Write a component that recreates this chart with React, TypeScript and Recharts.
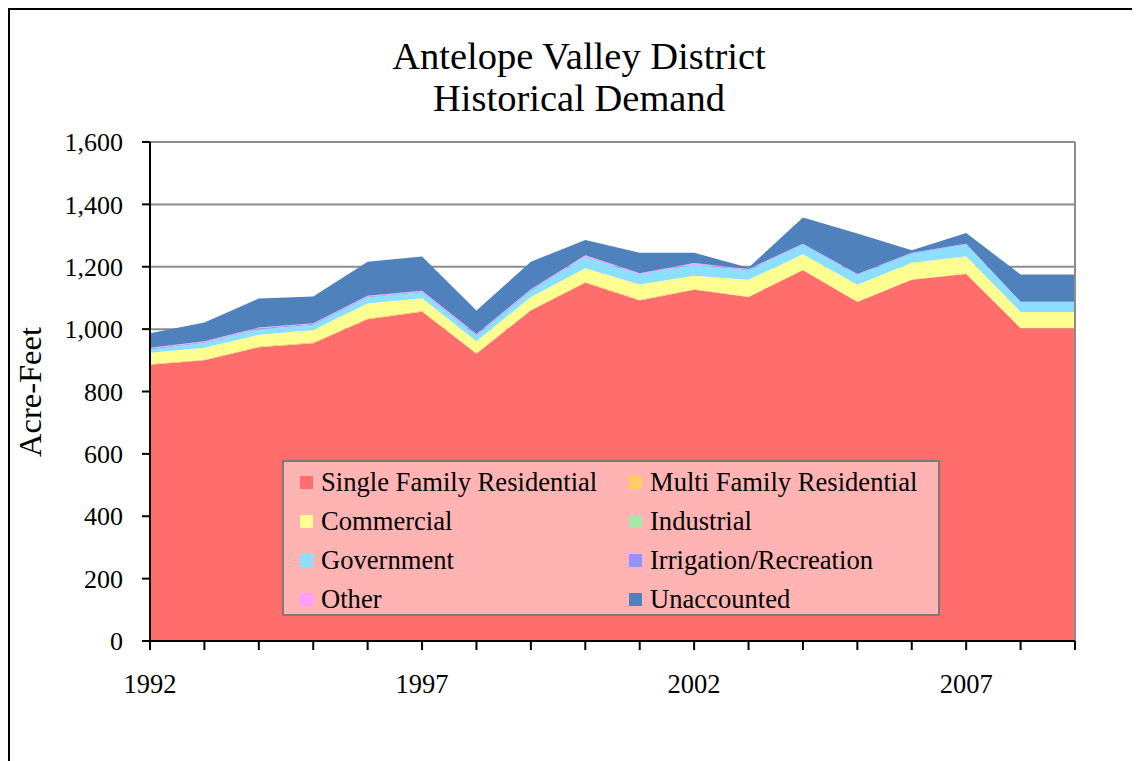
import { AreaChart, Area, XAxis, YAxis, CartesianGrid, ReferenceLine } from "recharts";

const years = [1992, 1993, 1994, 1995, 1996, 1997, 1998, 1999, 2000, 2001, 2002, 2003, 2004, 2005, 2006, 2007, 2008, 2009];

const singleFamily = [886, 900, 942, 955, 1032, 1056, 921, 1060, 1149, 1092, 1126, 1103, 1189, 1087, 1158, 1177, 1003, 1003];
const multiFamily = [3, 3, 3, 3, 3, 3, 3, 3, 3, 3, 3, 2, 2, 2, 2, 2, 1, 1];
const commercial = [35, 37, 37, 39, 47, 40, 37, 40, 43, 48, 42, 53, 49, 53, 53, 55, 51, 51];
const industrial = [0, 0, 0, 0, 0, 0, 0, 0, 0, 0, 0, 0, 0, 0, 0, 0, 0, 0];
const government = [11, 16, 18, 17, 20, 19, 18, 20, 37, 32, 36, 31, 31, 32, 29, 37, 33, 33];
const irrigation = [3, 3, 3, 3, 3, 3, 3, 3, 2, 2, 2, 2, 2, 2, 2, 2, 0, 0];
const other = [2, 2, 2, 2, 2, 2, 2, 2, 3, 2, 3, 2, 1, 1, 1, 1, 0, 0];
const unaccounted = [47, 60, 93, 86, 109, 110, 76, 88, 49, 66, 33, 4, 84, 130, 8, 34, 87, 87];

const yTicks = [0, 200, 400, 600, 800, 1000, 1200, 1400, 1600];
const labelYears = [1992, 1997, 2002, 2007];

const series = [
  { key: "sfr", name: "Single Family Residential", color: "#ff6d6d", values: singleFamily },
  { key: "mfr", name: "Multi Family Residential", color: "#ffcc66", values: multiFamily },
  { key: "com", name: "Commercial", color: "#ffff91", values: commercial },
  { key: "ind", name: "Industrial", color: "#a6e8a6", values: industrial },
  { key: "gov", name: "Government", color: "#8cdfff", values: government },
  { key: "irr", name: "Irrigation/Recreation", color: "#9393ff", values: irrigation },
  { key: "oth", name: "Other", color: "#ff9dff", values: other },
  { key: "una", name: "Unaccounted", color: "#4f81bd", values: unaccounted },
];

const data = years.map((year, i) => {
  const row: Record<string, number> = { year };
  series.forEach((s) => (row[s.key] = s.values[i]));
  return row;
});

const FONT = "'Liberation Serif', 'Times New Roman', serif";

const YearTick = (props: any) => {
  const { x, y, payload } = props;
  if (!labelYears.includes(payload.value)) return null;
  return (
    <text x={x} y={y} dy="0.71em" textAnchor="middle" fontSize={26.5} fontFamily={FONT} fill="#000">
      {payload.value}
    </text>
  );
};

export default function App() {
  return (
    <div
      style={{
        position: "relative",
        width: 1132,
        height: 753,
        boxSizing: "border-box",
        borderTop: "2px solid #000",
        borderLeft: "2px solid #000",
        fontFamily: FONT,
        background: "#fff",
      }}
    >
      {/* title */}
      <div
        style={{
          position: "absolute",
          left: 269,
          top: 25,
          width: 600,
          textAlign: "center",
          fontSize: 38.5,
          lineHeight: "42px",
          color: "#000",
        }}
      >
        Antelope Valley District
        <br />
        Historical Demand
      </div>

      {/* y axis title */}
      <div
        style={{
          position: "absolute",
          left: 20,
          top: 382,
          transform: "translate(-50%, -50%) rotate(-90deg)",
          fontSize: 32.5,
          whiteSpace: "nowrap",
          color: "#000",
        }}
      >
        Acre-Feet
      </div>

      <div style={{ position: "absolute", left: 0, top: 0 }}>
        <AreaChart width={1120} height={740} data={data} margin={{ top: 132, right: 55, left: 0, bottom: 0 }}>
          <CartesianGrid vertical={false} stroke="#8c8c8c" strokeWidth={2} />
          <ReferenceLine x={2009} stroke="#8c8c8c" strokeWidth={2} />
          <XAxis
            dataKey="year"
            interval={0}
            height={109}
            tickSize={9}
            tickMargin={24}
            tick={<YearTick />}
            axisLine={{ stroke: "#000", strokeWidth: 2 }}
            tickLine={{ stroke: "#000", strokeWidth: 2 }}
          />
          <YAxis
            width={140}
            domain={[0, 1600]}
            ticks={yTicks}
            allowDataOverflow
            tickSize={8}
            tickMargin={19}
            tickFormatter={(v: number) => v.toLocaleString("en-US")}
            tick={{ fontSize: 26, fontFamily: FONT, fill: "#000" }}
            axisLine={{ stroke: "#000", strokeWidth: 2 }}
            tickLine={{ stroke: "#000", strokeWidth: 2 }}
          />
          {series.map((s) => (
            <Area
              key={s.key}
              type="linear"
              dataKey={s.key}
              name={s.name}
              stackId="1"
              stroke="none"
              fill={s.color}
              fillOpacity={1}
              isAnimationActive={false}
            />
          ))}
        </AreaChart>
      </div>

      {/* legend */}
      <div
        style={{
          position: "absolute",
          left: 272,
          top: 450,
          width: 658,
          height: 156,
          boxSizing: "border-box",
          border: "2px solid #7a7a7a",
          background: "#ffb3b3",
        }}
      >
        {series.map((s, i) => {
          const col = i % 2;
          const row = Math.floor(i / 2);
          return (
            <div
              key={s.key}
              style={{
                position: "absolute",
                left: 16 + col * 329,
                top: 7 + row * 39,
                height: 26,
                display: "flex",
                alignItems: "center",
                fontSize: 26.6,
                lineHeight: "26px",
                whiteSpace: "nowrap",
                color: "#000",
              }}
            >
              <span style={{ width: 13, height: 13, background: s.color, marginRight: 8, display: "inline-block" }} />
              {s.name}
            </div>
          );
        })}
      </div>
    </div>
  );
}
